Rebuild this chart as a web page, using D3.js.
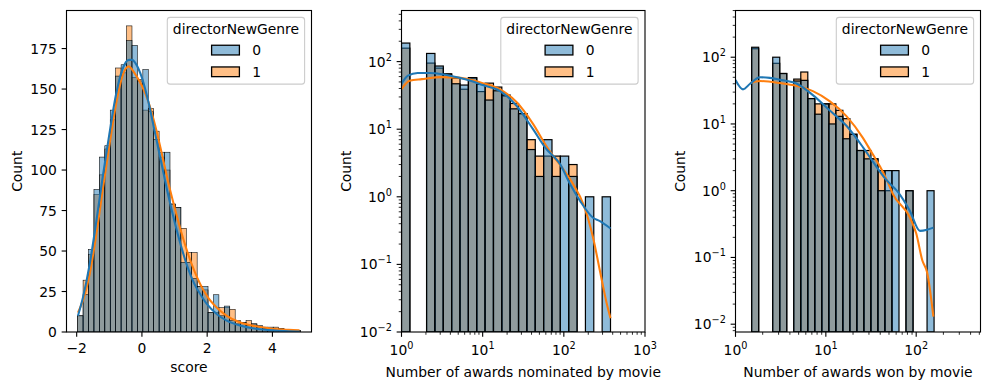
<!DOCTYPE html>
<html>
<head>
<meta charset="utf-8">
<script src="https://cdn.jsdelivr.net/npm/d3@7"></script>
<style>
  body { margin: 0; background: #fff; }
  text { font-family: "DejaVu Sans", sans-serif; fill: #000; }
</style>
</head>
<body>
<svg id="chart" width="989" height="390"></svg>
<script>
// colours used by seaborn for hue 0 / hue 1
const blue = "#1f77b4", orange = "#ff7f0e";
const hueLabels = ["0", "1"];

// ---- panel 1 : score (linear) ----
const scoreStart = -1.97, scoreWidth = 0.1665;
const scoreCount0 = [10, 23, 51, 88, 108, 115, 137, 158, 165, 180, 177, 155, 162, 136, 119, 111, 111, 79, 77, 43,
                     43, 33, 28, 28, 12, 23, 10, 16, 7, 5, 6, 4, 5, 4, 2, 3, 1, 2, 1, 1, 1];
const scoreCount1 = [10, 32, 48, 85, 97, 113, 131, 163, 160, 189, 157, 156, 137, 138, 124, 108, 100, 79, 77, 64,
                     49, 49, 28, 26, 12, 12, 15, 15, 14, 7, 6, 7, 5, 3, 3, 1, 3, 2, 1, 1, 1];
const scoreKdeX = [-1.96, -1.8, -1.6, -1.4, -1.2, -1.0, -0.8, -0.6, -0.4, -0.3, -0.2, 0, 0.2, 0.4, 0.6, 0.8,
                   1.0, 1.2, 1.4, 1.6, 1.8, 2.0, 2.3, 2.6, 3.0, 3.5, 4.0, 4.5, 4.83];
const scoreKde0 = [10, 22, 42, 68, 96, 122, 146, 162, 168, 168, 166, 157, 142, 123, 104, 85,
                   68, 53, 40, 30, 23, 17, 11, 7, 4, 2, 1, 0.5, 0.3];
const scoreKde1 = [12, 20, 36, 60, 88, 115, 140, 158, 164, 162, 159, 152, 142, 128, 111, 93,
                   77, 62, 49, 38, 29, 22, 15, 10, 6, 3.5, 2, 1.3, 1.0];

// ---- panel 2 : awards nominated (log-log), bins of equal log width ----
const nomLogStart = 0, nomLogWidth = 0.103;
const nomCount0 = [188, 0, 0, 132, 86, 65, 47, 45, 58, 46, 27, 37, 32, 20, 17, 5, 2, 7, 2, 4, 2, 0, 1, 0, 1];
const nomCount1 = [158, 0, 0, 95, 80, 66, 57, 39, 57, 36, 48, 42, 31, 24, 17, 7, 4, 4, 4, 0, 3, 0, 0, 0, 0];
const nomKdeX0 = [1, 1.2, 1.58, 2.24, 3.16, 5.01, 7.08, 10, 16.2, 26.3, 41.7, 61.7, 74.1, 89.1, 117.5, 158.5, 229, 275, 376];
const nomKde0  = [47, 62, 68, 68, 65, 58, 52, 45, 37, 22, 10, 5, 4, 3.1, 1.6, 0.87, 0.49, 0.44, 0.34];
const nomKdeX1 = [1, 1.26, 1.78, 3.16, 5.01, 7.08, 10, 16.2, 26.3, 41.7, 61.7, 74.1, 93.3, 131.8, 173.8, 229, 278.6, 338.8, 376];
const nomKde1  = [39, 52, 55, 59, 58, 54, 48, 39, 25, 12, 5.5, 4, 2.8, 1.5, 0.78, 0.25, 0.08, 0.026, 0.016];

// ---- panel 3 : awards won (log-log) ----
const wonLogStart = 0.179, wonLogWidth = 0.07765;
const wonCount0 = [141, 0, 0, 100, 57, 0, 44, 45, 24, 14, 20, 10, 13, 6, 7, 4, 3, 3, 1, 2, 2, 0, 1, 0, 0, 1];
const wonCount1 = [134, 0, 0, 81, 57, 0, 47, 60, 24, 20, 20, 20, 16, 12, 7, 4, 4, 3, 2, 1, 0, 0, 1, 0, 0, 0];
const wonKdeX0 = [1, 1.21, 1.45, 1.86, 2.4, 3.09, 4.79, 7.18, 11, 17, 25.7, 34.7, 45.7, 63, 85, 110, 132, 155];
const wonKde0  = [45.6, 33, 40, 50, 49, 46, 40, 27, 16, 9.3, 4.5, 2.5, 1.5, 0.95, 0.5, 0.25, 0.26, 0.28];
const wonKdeX1 = [1.45, 1.86, 3.09, 4.79, 7.18, 11, 17, 25.7, 33.1, 39.8, 49, 55, 85, 100, 117, 132, 155];
const wonKde1  = [41, 44, 41, 37, 31, 22, 13, 6.2, 3.5, 2.3, 1.3, 0.9, 0.4, 0.23, 0.09, 0.06, 0.013];

const fs = 13.89;          // 10pt at 100 dpi
const axTop = 10.5, axBottom = 332;
const svg = d3.select("#chart");
const defs = svg.append("defs");

function supLabel(sel, exp) {
  sel.append("tspan").text("10");
  sel.append("tspan").attr("font-size", 9.7).attr("dy", -6)
     .text(exp < 0 ? "\u2212" + (-exp) : String(exp));
}

function logTicks(scale) {
  const [a, b] = scale.domain();
  const major = [], minor = [];
  for (let e = Math.floor(Math.log10(a)); e <= Math.ceil(Math.log10(b)); e++) {
    for (let m = 1; m <= 9; m++) {
      const v = m * Math.pow(10, e);
      if (v < a * 0.9999 || v > b * 1.0001) continue;
      (m === 1 ? major : minor).push({v, e});
    }
  }
  return {major, minor};
}

function drawPanel(cfg) {
  const x = cfg.x, y = cfg.y;
  const g = svg.append("g");
  const clipId = "clip" + cfg.id;
  defs.append("clipPath").attr("id", clipId).append("rect")
    .attr("x", cfg.left).attr("y", axTop)
    .attr("width", cfg.right - cfg.left).attr("height", axBottom - axTop);
  const plot = g.append("g").attr("clip-path", `url(#${clipId})`);

  // layered bars: hue 1 first, hue 0 drawn over it
  [[cfg.counts1, orange], [cfg.counts0, blue]].forEach(([counts, color]) => {
    const bins = counts.map((c, i) => ({c, x0: cfg.edges[i], x1: cfg.edges[i + 1]})).filter(d => d.c > 0);
    plot.append("g").selectAll("rect").data(bins).join("rect")
      .attr("x", d => x(d.x0))
      .attr("width", d => x(d.x1) - x(d.x0))
      .attr("y", d => y(d.c))
      .attr("height", d => axBottom - y(d.c))
      .attr("fill", color).attr("fill-opacity", 0.5)
      .attr("stroke", "#000").attr("stroke-width", cfg.barLw);
  });

  // kde curves
  const line = d3.line().x(d => x(d[0])).y(d => y(d[1])).curve(d3.curveMonotoneX);
  [[cfg.kdeX1, cfg.kde1, orange], [cfg.kdeX0, cfg.kde0, blue]].forEach(([xs, ys, color]) => {
    plot.append("path").datum(xs.map((v, i) => [v, ys[i]]))
      .attr("d", line).attr("fill", "none")
      .attr("stroke", color).attr("stroke-width", 2.08);
  });

  // ticks
  const ax = g.append("g");
  if (cfg.log) {
    const tx = logTicks(x), ty = logTicks(y);
    tx.minor.forEach(t => ax.append("line").attr("x1", x(t.v)).attr("x2", x(t.v))
      .attr("y1", axBottom).attr("y2", axBottom + 2.78).attr("stroke", "#000").attr("stroke-width", 0.83));
    ty.minor.forEach(t => ax.append("line").attr("y1", y(t.v)).attr("y2", y(t.v))
      .attr("x1", cfg.left).attr("x2", cfg.left - 2.78).attr("stroke", "#000").attr("stroke-width", 0.83));
    tx.major.forEach(t => {
      ax.append("line").attr("x1", x(t.v)).attr("x2", x(t.v))
        .attr("y1", axBottom).attr("y2", axBottom + 4.86).attr("stroke", "#000").attr("stroke-width", 1.11);
      ax.append("text").attr("x", x(t.v)).attr("y", 354.8).attr("text-anchor", "middle")
        .attr("font-size", fs).call(supLabel, t.e);
    });
    ty.major.forEach(t => {
      ax.append("line").attr("y1", y(t.v)).attr("y2", y(t.v))
        .attr("x1", cfg.left).attr("x2", cfg.left - 4.86).attr("stroke", "#000").attr("stroke-width", 1.11);
      ax.append("text").attr("x", cfg.left - 9.7).attr("y", y(t.v) + 5).attr("text-anchor", "end")
        .attr("font-size", fs).call(supLabel, t.e);
    });
  } else {
    cfg.xTicks.forEach(v => {
      ax.append("line").attr("x1", x(v)).attr("x2", x(v))
        .attr("y1", axBottom).attr("y2", axBottom + 4.86).attr("stroke", "#000").attr("stroke-width", 1.11);
      ax.append("text").attr("x", x(v)).attr("y", 352.5).attr("text-anchor", "middle")
        .attr("font-size", fs).text(v < 0 ? "\u2212" + (-v) : v);
    });
    cfg.yTicks.forEach(v => {
      ax.append("line").attr("y1", y(v)).attr("y2", y(v))
        .attr("x1", cfg.left).attr("x2", cfg.left - 4.86).attr("stroke", "#000").attr("stroke-width", 1.11);
      ax.append("text").attr("x", cfg.left - 9.7).attr("y", y(v) + 5).attr("text-anchor", "end")
        .attr("font-size", fs).text(v);
    });
  }

  // spines
  g.append("rect").attr("x", cfg.left).attr("y", axTop)
    .attr("width", cfg.right - cfg.left).attr("height", axBottom - axTop)
    .attr("fill", "none").attr("stroke", "#000").attr("stroke-width", 1.11);

  // axis labels
  g.append("text").attr("x", (cfg.left + cfg.right) / 2).attr("y", cfg.xlabelY)
    .attr("text-anchor", "middle").attr("font-size", fs).text(cfg.xlabel);
  g.append("text").attr("transform", `translate(${cfg.ylabelX},${(axTop + axBottom) / 2}) rotate(-90)`)
    .attr("text-anchor", "middle").attr("font-size", fs).text("Count");

  // legend
  const bw = 137.3, bh = 66.7;
  const bx = cfg.right - 6.9 - bw, by = axTop + 6.9;
  const lg = g.append("g");
  lg.append("rect").attr("x", bx).attr("y", by).attr("width", bw).attr("height", bh)
    .attr("rx", 2.8).attr("fill", "#fff").attr("fill-opacity", 0.8)
    .attr("stroke", "#cccccc").attr("stroke-width", 1.11);
  lg.append("text").attr("x", bx + bw / 2).attr("y", by + 16.9).attr("text-anchor", "middle")
    .attr("font-size", fs).text("directorNewGenre");
  [blue, orange].forEach((color, i) => {
    const cy = by + 32.7 + i * 21.7;
    lg.append("rect").attr("x", bx + 44.3).attr("y", cy - 4.85).attr("width", 27.8).attr("height", 9.7)
      .attr("fill", color).attr("fill-opacity", 0.5).attr("stroke", "#000").attr("stroke-width", 1.3);
    lg.append("text").attr("x", bx + 85).attr("y", cy + 5).attr("font-size", fs).text(hueLabels[i]);
  });
}

// panel 1
const scoreEdges = d3.range(scoreCount0.length + 1).map(i => scoreStart + i * scoreWidth);
drawPanel({
  id: 1, left: 66.5, right: 311.5, log: false,
  x: d3.scaleLinear().domain([-2.312, 5.198]).range([66.5, 311.5]),
  y: d3.scaleLinear().domain([0, 198.5]).range([axBottom, axTop]),
  edges: scoreEdges, counts0: scoreCount0, counts1: scoreCount1,
  kdeX0: scoreKdeX, kde0: scoreKde0, kdeX1: scoreKdeX, kde1: scoreKde1,
  xTicks: [-2, 0, 2, 4], yTicks: [0, 25, 50, 75, 100, 125, 150, 175],
  barLw: 0.55, xlabel: "score", xlabelY: 371.6, ylabelX: 21.7
});

// panel 2
const nomEdges = d3.range(nomCount0.length + 1).map(i => Math.pow(10, nomLogStart + i * nomLogWidth));
drawPanel({
  id: 2, left: 401.5, right: 645, log: true,
  x: d3.scaleLog().domain([1, 1000]).range([401.5, 645]),
  y: d3.scaleLog().domain([0.01, 570]).range([axBottom, axTop]),
  edges: nomEdges, counts0: nomCount0, counts1: nomCount1,
  kdeX0: nomKdeX0, kde0: nomKde0, kdeX1: nomKdeX1, kde1: nomKde1,
  barLw: 1.2, xlabel: "Number of awards nominated by movie", xlabelY: 376.5, ylabelX: 350.7
});

// panel 3
const wonEdges = d3.range(wonCount0.length + 1).map(i => Math.pow(10, wonLogStart + i * wonLogWidth));
drawPanel({
  id: 3, left: 735.5, right: 980.5, log: true,
  x: d3.scaleLog().domain([1, 515]).range([735.5, 980.5]),
  y: d3.scaleLog().domain([0.00764, 501]).range([axBottom, axTop]),
  edges: wonEdges, counts0: wonCount0, counts1: wonCount1,
  kdeX0: wonKdeX0, kde0: wonKde0, kdeX1: wonKdeX1, kde1: wonKde1,
  barLw: 1.2, xlabel: "Number of awards won by movie", xlabelY: 376.5, ylabelX: 685
});
</script>
</body>
</html>
